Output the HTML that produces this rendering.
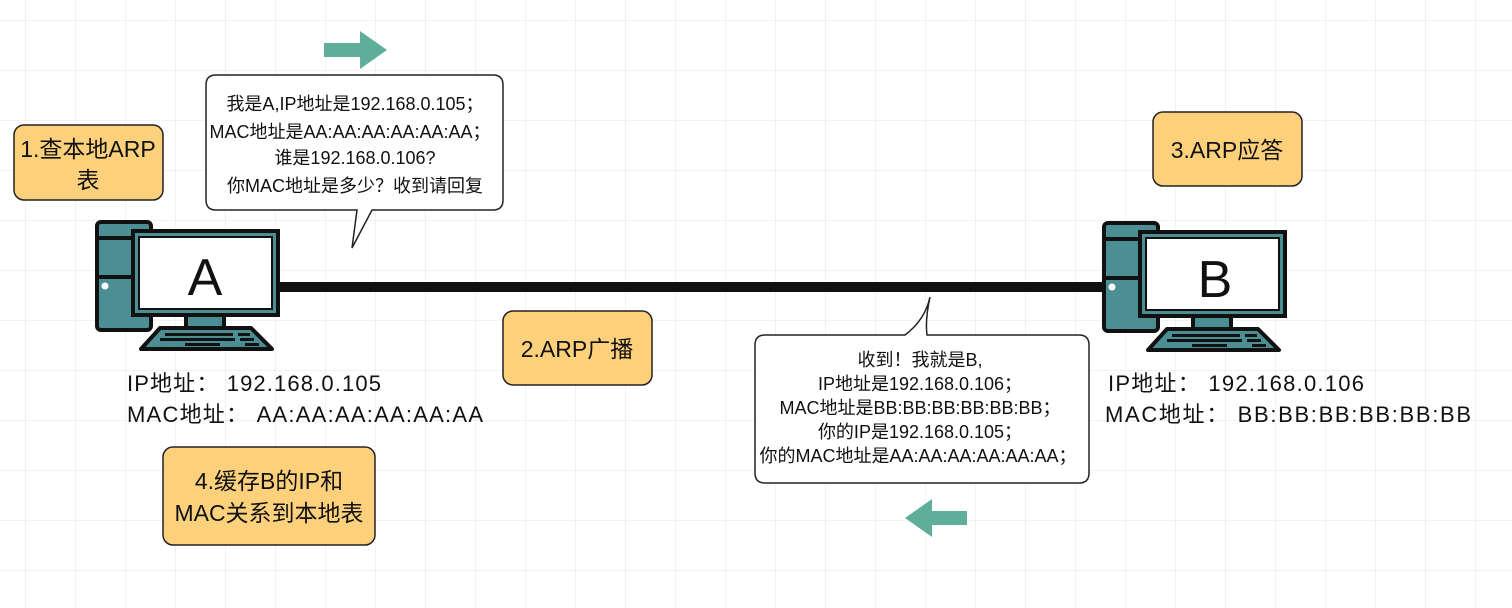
<!DOCTYPE html>
<html><head><meta charset="utf-8"><style>
html,body{margin:0;padding:0;background:#fff;}
svg{display:block;}
text{font-family:"Liberation Sans","Noto Sans CJK SC",sans-serif;fill:#111;}
</style></head><body>
<svg width="1512" height="608" viewBox="0 0 1512 608" xmlns="http://www.w3.org/2000/svg">
<defs>
<pattern id="g" x="25" y="20" width="50" height="50" patternUnits="userSpaceOnUse">
<path d="M0 0H50M0 0V50" stroke="#e6e6e6" stroke-width="1" fill="none"/>
</pattern>
<g id="pc">
<rect x="97" y="222" width="54" height="108" rx="4" fill="#4b8e94" stroke="#111" stroke-width="4"/>
<line x1="97" y1="238" x2="151" y2="238" stroke="#111" stroke-width="4"/>
<line x1="97" y1="277" x2="151" y2="277" stroke="#111" stroke-width="4"/>
<circle cx="105" cy="286" r="3.5" fill="#fff"/>
<rect x="186" y="312" width="38" height="18" fill="#4b8e94" stroke="#111" stroke-width="4"/>
<rect x="133" y="231" width="145" height="84" fill="#4b8e94" stroke="#111" stroke-width="4"/>
<rect x="139" y="237" width="133" height="72" fill="#fff" stroke="#111" stroke-width="2"/>
<path d="M160 328 L251 328 L272 349 L141 349 Z" fill="#4b8e94" stroke="#111" stroke-width="4" stroke-linejoin="round"/>
<rect x="165" y="333" width="68" height="3" fill="#111"/><rect x="238" y="333" width="12" height="3" fill="#111"/>
<rect x="160" y="338" width="75" height="3" fill="#111"/><rect x="240" y="338" width="14" height="3" fill="#111"/>
<rect x="185" y="343" width="35" height="3" fill="#111"/><rect x="245" y="343" width="14" height="3" fill="#111"/>
</g>
</defs>
<rect width="1512" height="608" fill="#fff"/>
<rect width="1512" height="608" fill="url(#g)"/>

<rect x="276" y="282" width="832" height="10" fill="#111"/>

<use href="#pc"/>
<text x="205" y="295" font-size="52" text-anchor="middle">A</text>
<use href="#pc" transform="translate(1007,1)"/>
<text x="1215" y="297" font-size="52" text-anchor="middle">B</text>

<g fill="#fdd07c" stroke="#222" stroke-width="1.5">
<rect x="14" y="125" width="149" height="75" rx="10"/>
<rect x="1153" y="112" width="149" height="74" rx="10"/>
<rect x="503" y="311" width="149" height="74" rx="10"/>
<rect x="163" y="447" width="212" height="98" rx="10"/>
</g>
<g font-size="23" text-anchor="middle">
<text x="88" y="157">1.查本地ARP</text>
<text x="88" y="188">表</text>
<text x="1227" y="158">3.ARP应答</text>
<text x="577" y="357">2.ARP广播</text>
<text x="269" y="489">4.缓存B的IP和</text>
<text x="269" y="521">MAC关系到本地表</text>
</g>

<path d="M216 75 H493 Q503 75 503 85 V200 Q503 210 493 210 H372 L352 248 L357 210 H216 Q206 210 206 200 V85 Q206 75 216 75 Z" fill="#fff" stroke="#222" stroke-width="1.5"/>
<g font-size="18" text-anchor="middle">
<text x="355" y="110">我是A,IP地址是192.168.0.105；</text>
<text x="350" y="138">MAC地址是AA:AA:AA:AA:AA:AA；</text>
<text x="355" y="164">谁是192.168.0.106?</text>
<text x="355" y="192">你MAC地址是多少？收到请回复</text>
</g>

<path d="M765 335 H905 Q925 320 930 297 Q925 320 927 335 H1079 Q1089 335 1089 345 V473 Q1089 483 1079 483 H765 Q755 483 755 473 V345 Q755 335 765 335 Z" fill="#fff" stroke="#222" stroke-width="1.5"/>
<g font-size="18" text-anchor="middle">
<text x="920" y="366">收到！我就是B,</text>
<text x="920" y="390">IP地址是192.168.0.106；</text>
<text x="920" y="414">MAC地址是BB:BB:BB:BB:BB:BB；</text>
<text x="920" y="438">你的IP是192.168.0.105；</text>
<text x="918" y="462">你的MAC地址是AA:AA:AA:AA:AA:AA；</text>
</g>

<g font-size="22">
<text x="127" y="391" textLength="254">IP地址： 192.168.0.105</text>
<text x="127" y="422" textLength="356">MAC地址： AA:AA:AA:AA:AA:AA</text>
<text x="1108" y="391" textLength="256">IP地址： 192.168.0.106</text>
<text x="1105" y="422" textLength="366">MAC地址： BB:BB:BB:BB:BB:BB</text>
</g>

<path d="M324 43 H360 V31 L387 50 L360 69 V57 H324 Z" fill="#5fae9c"/>
<path d="M967 511 H932 V499 L905 518 L932 537 V525 H967 Z" fill="#5fae9c"/>
</svg>
</body></html>
